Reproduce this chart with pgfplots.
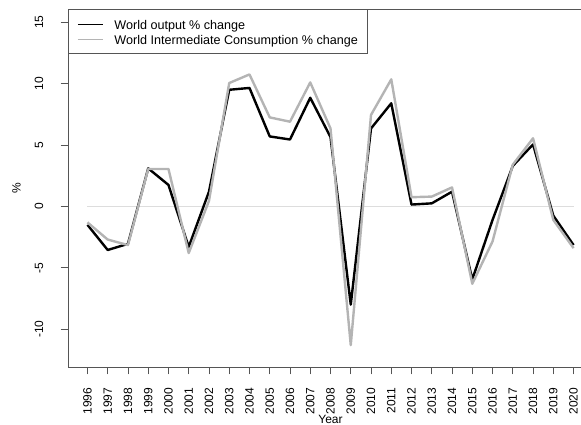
\documentclass[border=0pt]{standalone}
\usepackage{pgfplots}
\pgfplotsset{compat=1.18}
\usepackage{fontspec}
\setmainfont{Liberation Sans}
\definecolor{boxgray}{HTML}{555555}
\definecolor{seriesgray}{HTML}{B4B4B4}
\definecolor{zerogray}{HTML}{DDDDDD}
\begin{document}
\begin{tikzpicture}[x=1pt,y=1pt]
\begin{axis}[
  at={(68pt,58pt)}, anchor=south west,
  scale only axis, width=525pt, height=358pt,
  xmin=1995.04, xmax=2020.96, ymin=-13.08, ymax=16.08,
  axis line style={boxgray, line width=0.8pt},
  tick style={boxgray, line width=0.8pt},
  tick align=outside, major tick length=7.5pt,
  xtick={1996,1997,...,2020}, ytick={-10,-5,0,5,10,15},
  xtick pos=bottom, ytick pos=left,
  /pgf/number format/assume math mode=true,
  /pgf/number format/1000 sep={},
  ticklabel style={font=\fontsize{12}{14}\selectfont},
  x tick label style={rotate=90, anchor=east, inner sep=0pt, xshift=-13pt},
  y tick label style={rotate=90, anchor=base, inner sep=0pt, yshift=17.5pt},
  xlabel={Year}, ylabel={\%},
  xlabel style={at={(axis description cs:0.5,0)}, anchor=base, yshift=-57pt, font=\fontsize{12}{14}\selectfont, inner sep=0pt},
  ylabel style={at={(axis description cs:0,0.5)}, anchor=base, yshift=47.3pt, font=\fontsize{12}{14}\selectfont, inner sep=0pt},
  legend cell align=left,
  legend style={at={(0,1)}, anchor=north west, draw=boxgray, line width=0.8pt,
    inner xsep=9pt, inner ysep=8pt, row sep=1.7pt,
    font=\fontsize{12.6}{14}\selectfont,
    nodes={inner sep=0pt, text height=12.3pt, text depth=1pt},
    /tikz/every odd column/.append style={column sep=11pt}},
  legend image code/.code={\draw[#1, line width=1pt] (0pt,-0.35pt) -- (25pt,-0.35pt);},
]
\addplot[zerogray, line width=1pt, forget plot] coordinates {(1996,0) (2020,0)};
\addplot[black, line width=2.4pt, line join=round] coordinates {
(1996,-1.5) (1997,-3.55) (1998,-3.05) (1999,3.1) (2000,1.75) (2001,-3.3)
(2002,1.2) (2003,9.5) (2004,9.65) (2005,5.7) (2006,5.45) (2007,8.85)
(2008,5.65) (2009,-8.0) (2010,6.35) (2011,8.4) (2012,0.15) (2013,0.25)
(2014,1.2) (2015,-5.95) (2016,-1.1) (2017,3.3) (2018,5.05) (2019,-0.75) (2020,-3.15)};
\addplot[seriesgray, line width=2.4pt, line join=round] coordinates {
(1996,-1.3) (1997,-2.7) (1998,-3.15) (1999,3.05) (2000,3.05) (2001,-3.8)
(2002,0.45) (2003,10.05) (2004,10.75) (2005,7.25) (2006,6.9) (2007,10.1)
(2008,6.35) (2009,-11.3) (2010,7.45) (2011,10.35) (2012,0.75) (2013,0.8)
(2014,1.55) (2015,-6.3) (2016,-2.85) (2017,3.4) (2018,5.55) (2019,-1.1) (2020,-3.4)};
\legend{World output \% change, World Intermediate Consumption \% change}
\end{axis}
\pgfresetboundingbox
\path[use as bounding box] (0,0) rectangle (581,425);
\end{tikzpicture}
\end{document}
